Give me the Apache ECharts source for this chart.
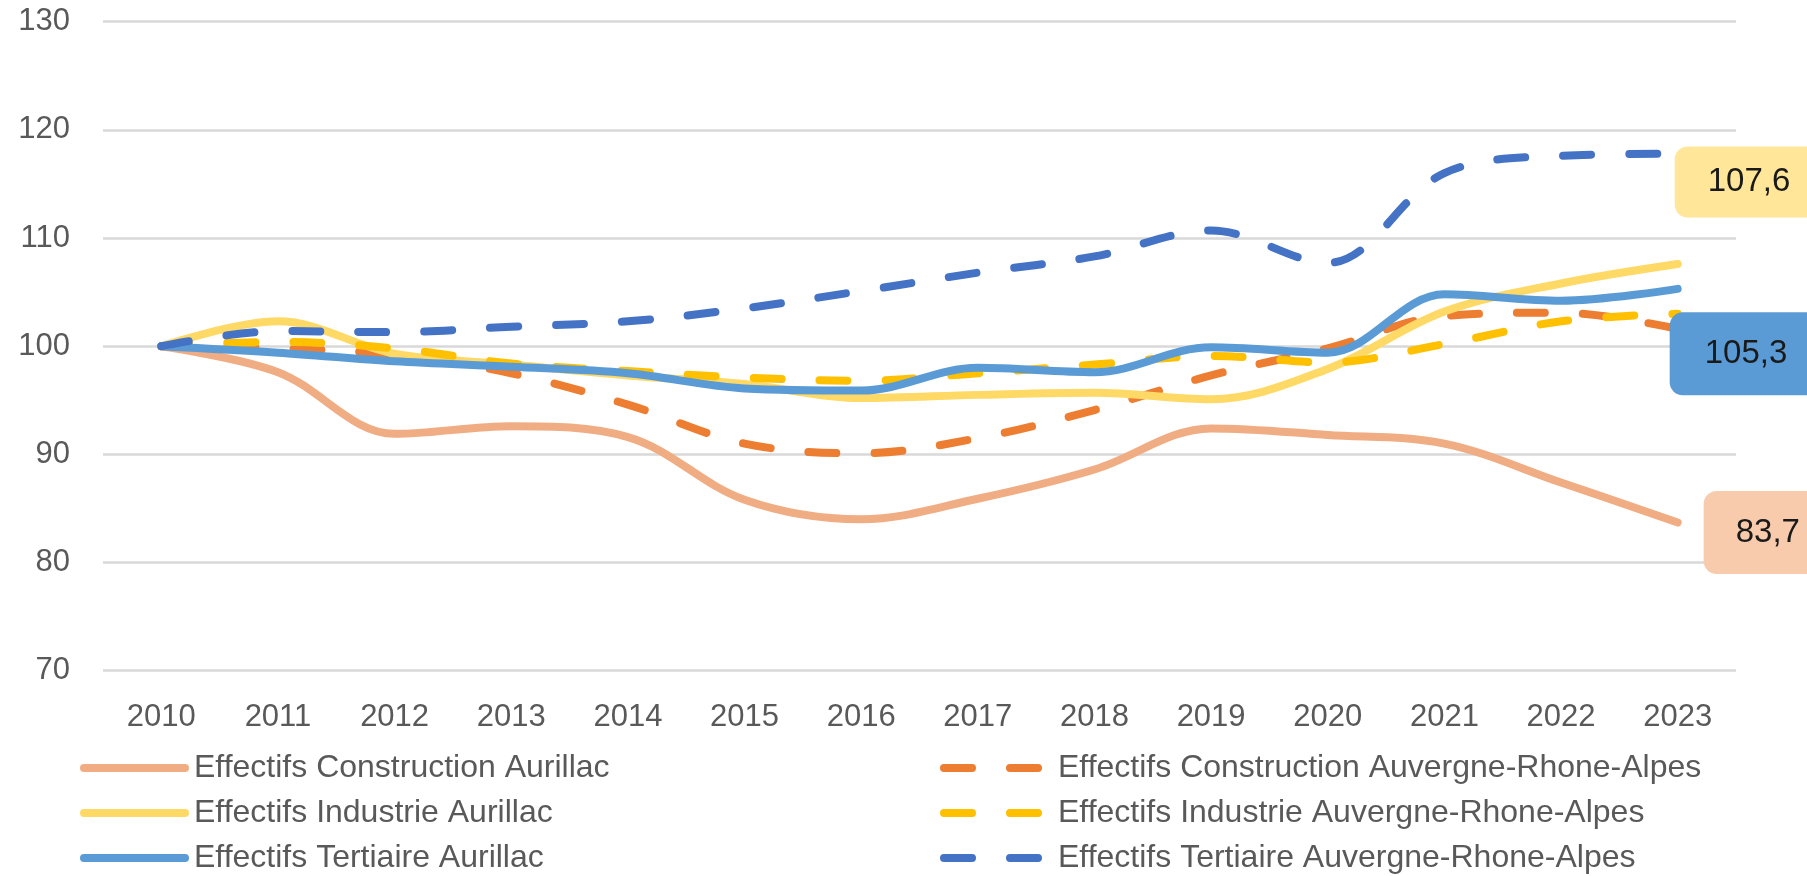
<!DOCTYPE html>
<html>
<head>
<meta charset="utf-8">
<script src="https://cdn.jsdelivr.net/npm/echarts@6/dist/echarts.min.js"></script>
<style>
  html, body { margin: 0; padding: 0; background: #fff; }
  #main { width: 1807px; height: 876px; }
</style>
</head>
<body>
<div id="main"></div>
<script>
var chartDom = document.getElementById('main');
var myChart = echarts.init(chartDom);
var option;

const years = ['2010','2011','2012','2013','2014','2015','2016','2017','2018','2019','2020','2021','2022','2023'];
const yTicks = { min: 70, max: 130, step: 10 };

// indices base 100 en 2010
const constructionAurillac = [100, 97.6, 91.9, 92.6, 91.6, 85.8, 84.0, 85.9, 88.6, 92.4, 91.8, 91.0, 87.4, 83.7];
const constructionAura     = [100, 99.8, 99.2, 97.5, 94.6, 91.0, 90.1, 91.5, 94.1, 97.3, 99.8, 102.8, 103.1, 101.6];
const industrieAurillac    = [100, 102.3, 99.3, 98.3, 97.3, 96.5, 95.2, 95.5, 95.7, 95.1, 97.9, 103.2, 105.8, 107.6];
const industrieAura        = [100, 100.4, 99.8, 98.4, 97.7, 97.1, 96.8, 97.5, 98.3, 99.1, 98.5, 100.2, 102.3, 103.0];
const tertiaireAurillac    = [100, 99.4, 98.6, 98.1, 97.5, 96.1, 95.9, 98.0, 97.6, 99.9, 99.4, 104.8, 104.2, 105.3];
const tertiaireAura        = [100, 101.4, 101.3, 101.8, 102.3, 103.5, 105.1, 106.8, 108.3, 110.7, 107.7, 116.0, 117.6, 117.8];

const names = [
    'Effectifs Construction Aurillac',
    'Effectifs Construction Auvergne-Rhone-Alpes',
    'Effectifs Industrie Aurillac',
    'Effectifs Industrie Auvergne-Rhone-Alpes',
    'Effectifs Tertiaire Aurillac',
    'Effectifs Tertiaire Auvergne-Rhone-Alpes'
];
const colors = ['#F0AD84', '#ED7D31', '#FFD966', '#FFC000', '#5B9BD5', '#4472C4'];

const font = 'Liberation Sans, Arial, sans-serif';
const dash = [28, 38];

function endBox(bg, pad, offset) {
    return {
        show: true,
        formatter: (p) => String(p.value).replace('.', ','),
        color: '#1a1a1a',
        fontSize: 33,
        fontFamily: font,
        lineHeight: 33,
        backgroundColor: bg,
        borderRadius: 13,
        padding: pad,
        distance: 0,
        offset: offset
    };
}

function makeLine(i, data, dashed, endLabel) {
    return {
        name: names[i],
        type: 'line',
        data: data,
        smooth: 0.35,
        symbol: 'none',
        color: colors[i],
        lineStyle: {
            width: 8,
            color: colors[i],
            type: dashed ? dash : 'solid',
            cap: 'round',
            join: 'round'
        },
        endLabel: endLabel || { show: false },
        labelLayout: { hideOverlap: false },
        z: 2 + i
    };
}

const legendBase = {
    orient: 'vertical',
    top: 752,
    padding: 0,
    itemWidth: 101,
    itemHeight: 9,
    itemGap: 13,
    itemStyle: { color: 'transparent', borderWidth: 0, opacity: 0 },
    lineStyle: { width: 8 },
    textStyle: {
        color: '#595959',
        fontSize: 32,
        fontFamily: font,
        lineHeight: 30,
        padding: [0, 0, 0, 4]
    }
};

option = {
    backgroundColor: '#ffffff',
    animation: false,
    grid: {
        left: 103,
        right: 71,
        top: 21.7,
        bottom: 205.3,
        containLabel: false,
        outerBoundsMode: 'none'
    },
    legend: [
        Object.assign({}, legendBase, {
            left: 80,
            data: [names[0], names[2], names[4]]
        }),
        Object.assign({}, legendBase, {
            left: 940,
            textStyle: Object.assign({}, legendBase.textStyle, { padding: [0, 0, 0, 8] }),
            data: [names[1], names[3], names[5]]
        })
    ],
    xAxis: {
        type: 'category',
        data: years,
        boundaryGap: true,
        axisLine: { show: false },
        axisTick: { show: false },
        axisLabel: {
            color: '#595959',
            fontSize: 31,
            fontFamily: font,
            margin: 31
        }
    },
    yAxis: {
        type: 'value',
        min: yTicks.min,
        max: yTicks.max,
        interval: yTicks.step,
        axisLine: { show: false },
        axisTick: { show: false },
        splitLine: {
            lineStyle: { color: '#D9D9D9', width: 2.5 }
        },
        axisLabel: {
            color: '#595959',
            fontSize: 31,
            fontFamily: font,
            margin: 33
        }
    },
    series: [
        makeLine(0, constructionAurillac, false, endBox('#F8CBAD', [25, 32], [26, 10])),
        makeLine(1, constructionAura, true),
        makeLine(2, industrieAurillac, false, endBox('#FFE699', [19, 33], [-3, -82])),
        makeLine(3, industrieAura, true),
        makeLine(4, tertiaireAurillac, false, endBox('#5B9BD5', [25, 35], [-8, 65])),
        makeLine(5, tertiaireAura, true)
    ]
};

option && myChart.setOption(option);
</script>
</body>
</html>
